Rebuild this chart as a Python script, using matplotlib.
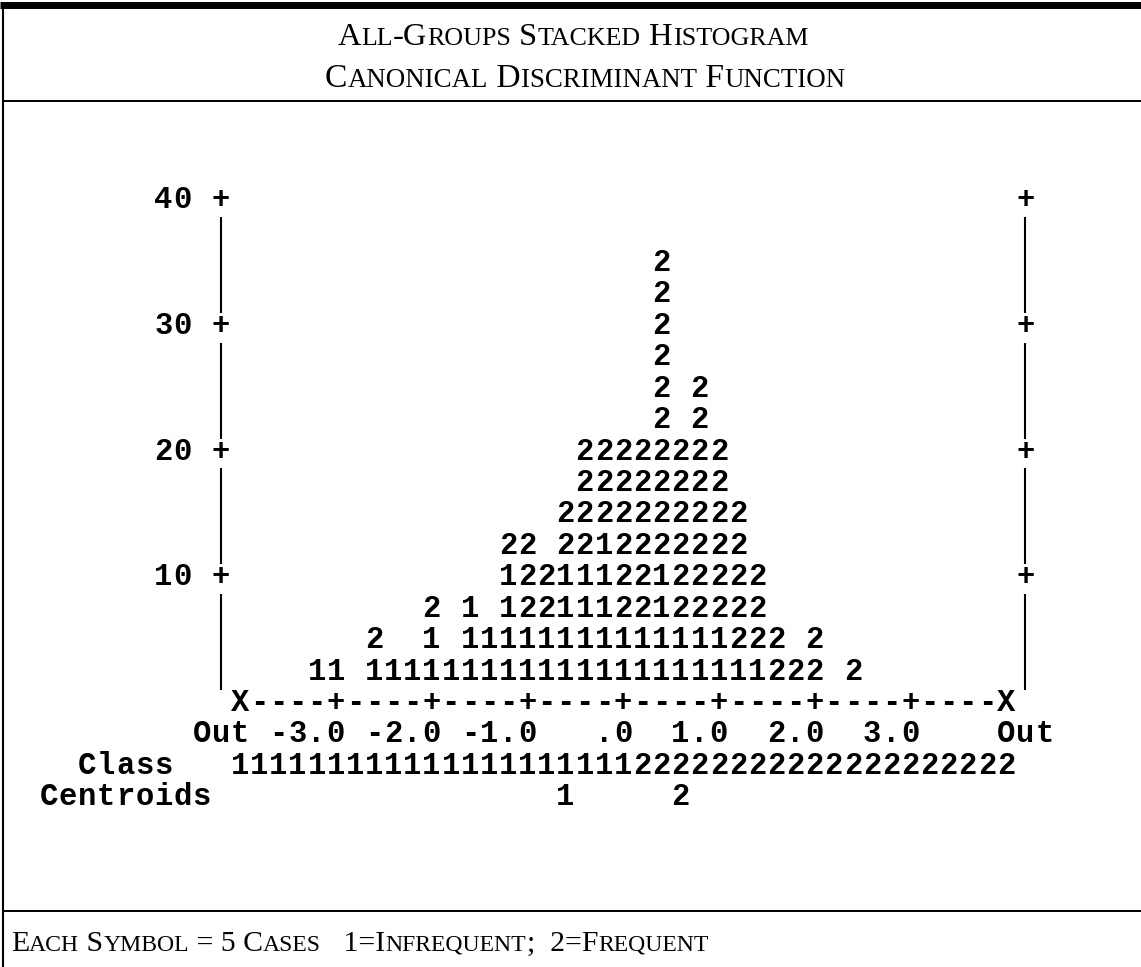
import matplotlib
matplotlib.use('Agg')
import matplotlib.pyplot as plt

W, H = 1141, 967

# bins of the discriminant score (one text column each) and symbols per group
bin_scores = [-3.2, -3.0, -2.8, -2.6, -2.4, -2.2, -2.0, -1.8, -1.6, -1.4,
              -1.2, -1.0, -0.8, -0.6, -0.4, -0.2, 0.0, 0.2, 0.4, 0.6,
              0.8, 1.0, 1.2, 1.4, 1.6, 1.8, 2.0, 2.2, 2.4]
group1 = [1, 1, 0, 1, 1, 1, 2, 1, 3, 2, 4, 2, 2, 4, 4, 5, 2, 2, 4, 2,
          2, 2, 1, 1, 0, 0, 0, 0, 0]
group2 = [0, 0, 0, 1, 0, 0, 1, 0, 0, 0, 1, 3, 2, 2, 4, 3, 6, 6, 10, 6,
          8, 6, 5, 3, 2, 1, 2, 0, 1]

y_ticks = [10, 20, 30, 40]
x_ticks = [-3.0, -2.0, -1.0, 0.0, 1.0, 2.0, 3.0]
x_tick_labels = ['-3.0', '-2.0', '-1.0', '.0', '1.0', '2.0', '3.0']
class_row = '11111111111111111111122222222222222222222'
centroids = {'1': -0.6, '2': 0.6}

title1 = 'All-Groups Stacked Histogram'
title2 = 'Canonical Discriminant Function'
footer = 'Each Symbol = 5 Cases   1=Infrequent;  2=Frequent'

# layout of the text grid
COL0_PX = 240.0     # pixel x of the left "X"
COL_W = 19.15       # pixel width of one character column
ZERO_PX = 703.0     # pixel y of the axis line
UNIT_PX = 12.575    # pixels per frequency unit
ROW = 2.5           # frequency units per symbol row
STEP = 0.2          # score width of one column


def col_score(c):
    return (c - 20) * STEP


fig = plt.figure(figsize=(W / 100, H / 100), dpi=100)
ax = fig.add_axes([0, 0, 1, 1])
ax.set_xlim(col_score((0 - COL0_PX) / COL_W), col_score((W - COL0_PX) / COL_W))
ax.set_ylim((ZERO_PX - H) / UNIT_PX, ZERO_PX / UNIT_PX)
ax.axis('off')

mono = dict(family='Liberation Mono', fontweight='bold', fontsize=22,
            ha='center', va='center', color='black')


def put(col, y, s):
    for i, ch in enumerate(s):
        if ch != ' ':
            ax.text(col_score(col + i), y, ch, **mono)


# stacked symbols
for s, a, b in zip(bin_scores, group1, group2):
    for k in range(a + b):
        ax.text(s, ROW * (k + 1), '1' if k < a else '2', **mono)

# vertical axes
for side in (-1, 41):
    for y in y_ticks:
        put(side, y, '+')
    for hi, lo in zip([40, 30, 20, 10], [30, 20, 10, 0]):
        ax.vlines(col_score(side), lo + 1.03, hi - 1.35, color='black', lw=1.5)
for y in y_ticks:
    lab = str(y)
    put(-2 - len(lab), y, lab)

# horizontal axis line
axis_line = ''.join('X' if c in (0, 40) else '+' if c % 5 == 0 else '-'
                    for c in range(41))
put(0, 0, axis_line)

# tick labels
put(-2, -ROW, 'Out')
put(40, -ROW, 'Out')
for v, lab in zip(x_ticks, x_tick_labels):
    c = round(v / STEP) + 20
    put(c - len(lab) + 1, -ROW, lab)

put(-8, -2 * ROW, 'Class')
put(0, -2 * ROW, class_row)
put(-10, -3 * ROW, 'Centroids')
for g, v in centroids.items():
    ax.text(v, -3 * ROW, g, **mono)

# frame, titles and footer in pixel coordinates
frame = fig.add_axes([0, 0, 1, 1])
frame.set_xlim(0, W)
frame.set_ylim(H, 0)
frame.axis('off')
frame.patch.set_alpha(0)

frame.plot([0, W], [5, 5], color='black', lw=5.0, solid_capstyle='butt')
frame.plot([3, 3], [5, H], color='black', lw=1.5)
frame.plot([3, W], [101, 101], color='black', lw=1.4)
frame.plot([3, W], [911, 911], color='black', lw=1.4)

renderer = fig.canvas.get_renderer()
caps_font = ['Liberation Sans Narrow', 'Liberation Serif']


def smallcaps(x, y, text, width, ha='center'):
    runs = []
    for ch in text:
        small = ch.islower()
        if runs and runs[-1][1] == small:
            runs[-1][0] += ch.upper()
        else:
            runs.append([ch.upper(), small])
    big = 20.0
    sizes = [big * 0.8 if small else big for _, small in runs]
    widths = []
    for (s, _), size in zip(runs, sizes):
        t1 = frame.text(0, 0, s + '|', fontsize=size, family=caps_font)
        t2 = frame.text(0, 0, '|', fontsize=size, family=caps_font)
        widths.append(t1.get_window_extent(renderer).width -
                      t2.get_window_extent(renderer).width)
        t1.remove()
        t2.remove()
    k = width / sum(widths)
    start = x - width / 2 if ha == 'center' else x
    for (s, _), size, w in zip(runs, sizes, widths):
        frame.text(start, y, s, fontsize=size * k, family=caps_font,
                   va='baseline', ha='left')
        start += w * k


smallcaps(573, 45, title1, 470)
smallcaps(585, 87, title2, 520)
smallcaps(11, 951, footer, 698, ha='left')

fig.savefig('out.png', dpi=100, facecolor='white')
